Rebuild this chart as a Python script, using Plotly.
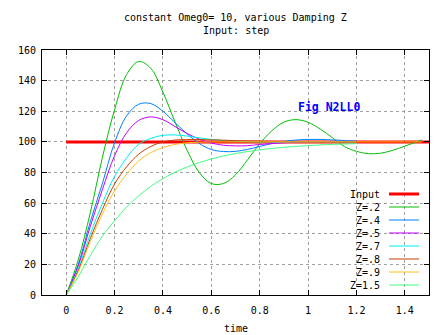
import plotly.graph_objects as go

# time samples for the step responses
time_short = [0, 0.05, 0.1, 0.15, 0.2, 0.25, 0.3, 0.35, 0.4, 0.45, 0.5, 0.55, 0.6,
              0.65, 0.7, 0.75, 0.8, 0.85, 0.9, 0.95, 1.0, 1.05, 1.1, 1.15, 1.2]
time_long = time_short + [1.25, 1.3, 1.35, 1.4, 1.45, 1.47]

# input step
input_t = [0, 1.5]
input_v = [100, 100]

# responses for each damping value (percent of the step)
z02 = [0, 23, 54, 90, 121, 144, 152.5, 148, 132.5, 113, 94.5, 80, 72.8, 72.8, 78.5,
       88.3, 98.8, 107.2, 112.9, 114.5, 112.8, 108.4, 102.8, 97, 93.8,
       92.3, 92.6, 94.5, 97.2, 100.1, 101.3]
z04 = [0, 20, 48, 73, 99.5, 117, 124.6, 125, 120, 112.5, 105.2, 99, 95, 93.7, 93.8,
       95.1, 97, 98.9, 100.3, 101.2, 101.6, 101.6, 101.3, 100.9, 100.5]
z05 = [0, 19, 45, 69, 91, 106, 114, 116.3, 114.5, 110, 105.5, 101.8, 99.2, 97.8, 97.4,
       97.5, 98.3, 98.9, 99.4, 99.8, 100, 100.2, 100.2, 100.1, 100.1]
z07 = [0, 17, 40, 60, 77.5, 89.5, 98.5, 102.3, 104.3, 104.5, 103.8, 102.6, 101.6, 100.9,
       100.4, 100.1, 100, 99.9, 99.9, 100, 100, 100, 100, 100, 100]
z08 = [0, 16, 37, 56, 72.5, 83.8, 92, 97, 100, 101.2, 101.5, 101.5, 101.3, 101.1, 100.8,
       100.6, 100.4, 100.25, 100.1, 100, 100, 100, 100, 100, 100]
z09 = [0, 15, 35, 53, 68, 79, 87.5, 93, 96.3, 98.3, 99.4, 99.8, 100, 100, 100,
       100, 100, 100, 100, 100, 100, 100, 100, 100, 100,
       100, 100, 100, 100, 100, 100]
z15 = [0, 12, 26, 38.5, 48.5, 57.5, 64.8, 71, 76, 80.2, 83.6, 86.5, 88.8, 90.8, 92.4,
       93.7, 94.8, 95.7, 96.45, 97.05, 97.55, 98, 98.35, 98.6, 98.85]

names = ["Input", "Z=.2", "Z=.4", "Z=.5", "Z=.7", "Z=.8", "Z=.9", "Z=1.5"]
colors = ["#ff0000", "#00c000", "#0080ff", "#c000ff", "#00eeee", "#c04000", "#ffc020", "#40ff80"]
widths = [3, 1, 1, 1, 1, 1, 1, 1]

x_ticks = [0, 0.2, 0.4, 0.6, 0.8, 1, 1.2, 1.4]
x_ticklabels = ["0", "0.2", "0.4", "0.6", "0.8", "1", "1.2", "1.4"]
y_ticks = [0, 20, 40, 60, 80, 100, 120, 140, 160]

series = [
    (input_t, input_v),
    (time_long, z02),
    (time_short, z04),
    (time_short, z05),
    (time_short, z07),
    (time_short, z08),
    (time_long, z09),
    (time_short, z15),
]

MONO = "DejaVu Sans Mono"
W, H = 447, 335
ML, MR, MT, MB = 42, 18, 50, 40
PW, PH = W - ML - MR, H - MT - MB

fig = go.Figure()
for (tt, vv), name, col, wd in zip(series, names, colors, widths):
    fig.add_trace(go.Scatter(
        x=tt, y=vv, mode="lines", name=name,
        line=dict(color=col, width=wd, shape="spline" if name != "Input" else "linear"),
        showlegend=False, hoverinfo="skip",
    ))

grid = dict(showgrid=True, gridcolor="#a0a0a0", griddash="3px,3px", gridwidth=1)
axis_common = dict(
    showline=True, linecolor="black", linewidth=1, mirror="ticks",
    ticks="inside", ticklen=5, tickcolor="black", tickwidth=1,
    zeroline=False, tickfont=dict(family=MONO, size=10, color="black"),
    **grid,
)

fig.update_xaxes(range=[-0.1, 1.5], tickvals=x_ticks, ticktext=x_ticklabels,
                 ticklabelstandoff=6, **axis_common)
fig.update_yaxes(range=[0, 160], tickvals=y_ticks, ticklabelstandoff=3, **axis_common)

def px_to_paper_x(px):
    return (px - ML) / PW

def px_to_paper_y(py):
    return (H - MB - py) / PH

annotations = [
    dict(text="constant Omeg0= 10, various Damping Z", x=0.5, y=px_to_paper_y(17.5)),
    dict(text="Input: step", x=0.5, y=px_to_paper_y(31)),
    dict(text="time", x=0.5, y=px_to_paper_y(328)),
]
for a in annotations:
    a.update(xref="paper", yref="paper", showarrow=False, xanchor="center", yanchor="middle",
             font=dict(family=MONO, size=10, color="black"))

annotations.append(dict(
    text="<b>Fig N2LL0</b>", x=0.95, y=123, xref="x", yref="y", showarrow=False,
    xanchor="left", yanchor="middle", font=dict(family=MONO, size=11.5, color="#0000ff"),
))

# key block: label on the left, line sample on the right
shapes = []
for i, (name, col, wd) in enumerate(zip(names, colors, widths)):
    py = 194 + 13 * i
    annotations.append(dict(
        text=name, x=px_to_paper_x(382), y=px_to_paper_y(py), xref="paper", yref="paper",
        showarrow=False, xanchor="right", yanchor="middle",
        font=dict(family=MONO, size=10, color="black"),
    ))
    shapes.append(dict(
        type="line", xref="paper", yref="paper",
        x0=px_to_paper_x(389), x1=px_to_paper_x(419),
        y0=px_to_paper_y(py), y1=px_to_paper_y(py),
        line=dict(color=col, width=wd),
    ))

fig.update_layout(
    width=W, height=H,
    margin=dict(l=ML, r=MR, t=MT, b=MB),
    paper_bgcolor="white", plot_bgcolor="white",
    annotations=annotations, shapes=shapes,
    showlegend=False,
)

fig.write_html("out.html")
